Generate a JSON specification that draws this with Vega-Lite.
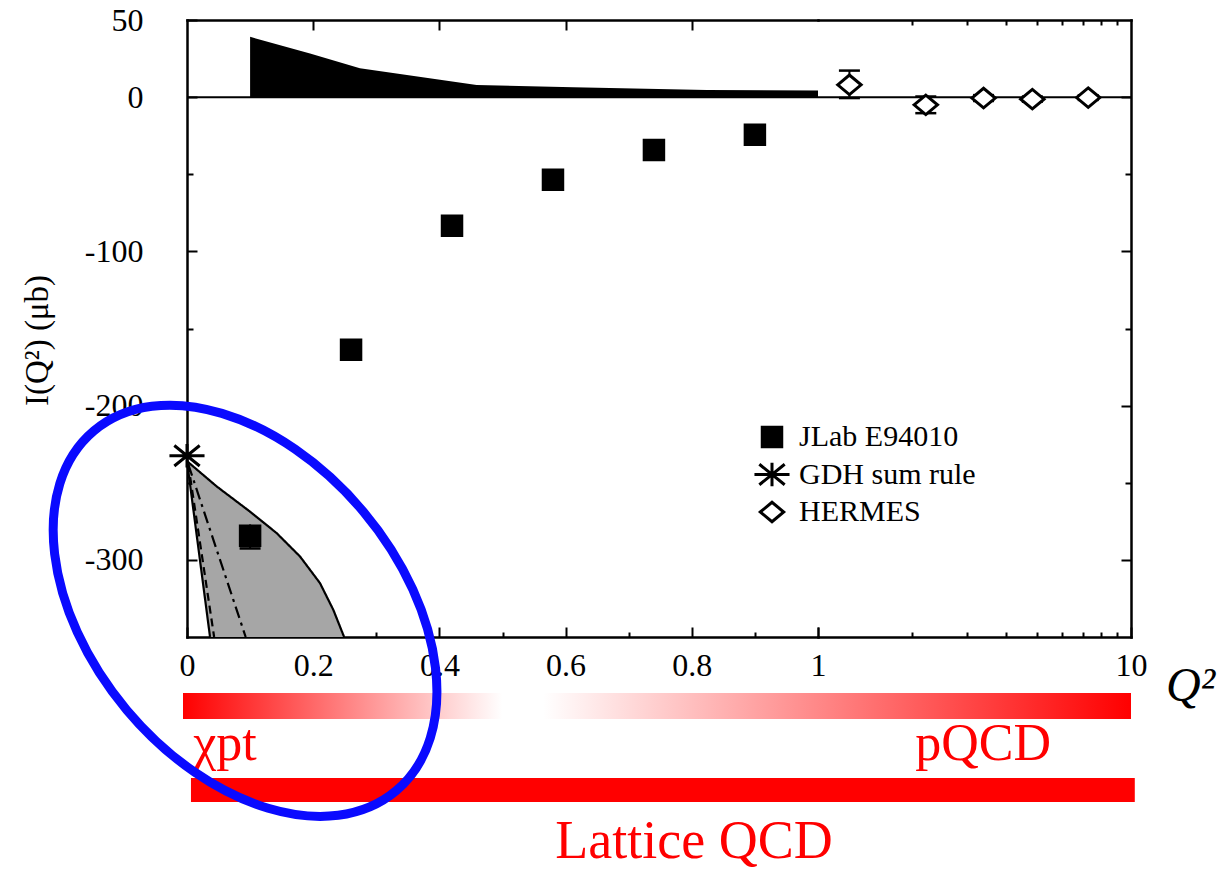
{
  "$schema": "https://vega.github.io/schema/vega-lite/v6.json",
  "width": 944,
  "height": 617,
  "autosize": {"type": "none"},
  "padding": {"left": 187, "top": 20, "right": 87, "bottom": 234},
  "background": "white",
  "config": {
    "view": {"stroke": null},
    "font": "Liberation Serif",
    "axis": {"grid": false, "domainColor": "black", "domainWidth": 2.5, "domainCap": "square", "tickColor": "black", "tickWidth": 2, "labelFont": "Liberation Serif", "labelFontSize": 32, "labelColor": "black", "labelFlush": false, "labelOverlap": false, "titleFont": "Liberation Serif", "titleColor": "black", "titleFontWeight": "normal"},
    "legend": {"labelFont": "Liberation Serif", "labelFontSize": 30, "labelColor": "black", "symbolSize": 380, "rowPadding": 3.5, "labelOffset": 12, "padding": 0, "symbolStrokeWidth": 3, "labelLimit": 400}
  },
  "datasets": {
    "blackArea": [
      {"q2": 0.1, "I": 39.1}, {"q2": 0.195, "I": 28.3}, {"q2": 0.274, "I": 18.7}, {"q2": 0.401, "I": 11.2},
      {"q2": 0.459, "I": 7.9}, {"q2": 0.612, "I": 6.4}, {"q2": 0.824, "I": 4.6}, {"q2": 1.0, "I": 4.3}
    ],
    "band": [
      {"I": -236, "xl": 0, "xr": 0}, {"I": -252.4, "xl": 0.0053, "xr": 0.0471}, {"I": -268.7, "xl": 0.0105, "xr": 0.0998},
      {"I": -282.7, "xl": 0.015, "xr": 0.1422}, {"I": -297.8, "xl": 0.0198, "xr": 0.1791}, {"I": -315.1, "xl": 0.0253, "xr": 0.2108},
      {"I": -332.4, "xl": 0.0309, "xr": 0.2319}, {"I": -350, "xl": 0.0365, "xr": 0.249}
    ],
    "curves": [
      {"line": "left", "q2": 0, "I": -236}, {"line": "left", "q2": 0.0365, "I": -350},
      {"line": "dash", "q2": 0.002, "I": -238}, {"line": "dash", "q2": 0.043, "I": -350},
      {"line": "dashdot", "q2": 0.002, "I": -238}, {"line": "dashdot", "q2": 0.093, "I": -350},
      {"line": "right", "q2": 0, "I": -236}, {"line": "right", "q2": 0.0471, "I": -252.4}, {"line": "right", "q2": 0.0998, "I": -268.7},
      {"line": "right", "q2": 0.1422, "I": -282.7}, {"line": "right", "q2": 0.1791, "I": -297.8}, {"line": "right", "q2": 0.2108, "I": -315.1},
      {"line": "right", "q2": 0.2319, "I": -332.4}, {"line": "right", "q2": 0.249, "I": -350}
    ],
    "jlab": [
      {"series": "JLab E94010", "q2": 0.1, "I": -284.4}, {"series": "JLab E94010", "q2": 0.26, "I": -163.8},
      {"series": "JLab E94010", "q2": 0.42, "I": -83.4}, {"series": "JLab E94010", "q2": 0.58, "I": -53.6},
      {"series": "JLab E94010", "q2": 0.74, "I": -34.2}, {"series": "JLab E94010", "q2": 0.9, "I": -24.4},
      {"series": "GDH sum rule", "q2": 0, "I": -232.5}
    ],
    "jlabErr": [
      {"q2": 0.1, "lo": -292.6, "hi": -277}, {"q2": 0.26, "lo": -168, "hi": -160}, {"q2": 0.42, "lo": -87, "hi": -80},
      {"q2": 0.58, "lo": -57, "hi": -50}, {"q2": 0.74, "lo": -37, "hi": -31}, {"q2": 0.9, "lo": -27, "hi": -22}
    ],
    "hermes": [
      {"series": "HERMES", "q2": 1.26, "I": 8.0}, {"series": "HERMES", "q2": 2.21, "I": -5.0}, {"series": "HERMES", "q2": 3.38, "I": -0.6},
      {"series": "HERMES", "q2": 4.84, "I": -1.3}, {"series": "HERMES", "q2": 7.3, "I": -0.3}
    ],
    "hermesErr": [
      {"q2": 1.26, "lo": -0.6, "hi": 17.2}, {"q2": 2.21, "lo": -10.4, "hi": 0.4}, {"q2": 3.38, "lo": -2.5, "hi": 1.3},
      {"q2": 4.84, "lo": -3.0, "hi": 0.4}, {"q2": 7.3, "lo": -1.8, "hi": 1.2}
    ],
    "ellipse": [{"q2": 0.092, "I": -333}]
  },
  "layer": [
    {
      "layer": [
        {
          "data": {"values": [{"from": 0, "to": 1, "top": 0.239, "bottom": 0.35}]},
          "mark": {"type": "rect", "fill": {"gradient": "linear", "stops": [{"offset": 0, "color": "#ff0000"}, {"offset": 0.337, "color": "#ffffff"}, {"offset": 0.38, "color": "#ffffff"}, {"offset": 1, "color": "#ff0000"}]}},
          "encoding": {
            "x": {"field": "from", "type": "quantitative", "scale": {"domain": [0, 1], "range": [-4, 944], "nice": false, "zero": false}, "axis": null},
            "x2": {"field": "to"},
            "y": {"field": "top", "type": "quantitative", "scale": {"domain": [0, 1], "range": [617, 851], "nice": false, "zero": false}, "axis": null},
            "y2": {"field": "bottom"}
          }
        },
        {
          "data": {"values": [{"from": 0.0084, "to": 1.004, "top": 0.603, "bottom": 0.705}]},
          "mark": {"type": "rect", "fill": "#ff0000"},
          "encoding": {
            "x": {"field": "from", "type": "quantitative", "scale": {"domain": [0, 1], "range": [-4, 944], "nice": false, "zero": false}, "axis": null},
            "x2": {"field": "to"},
            "y": {"field": "top", "type": "quantitative", "scale": {"domain": [0, 1], "range": [617, 851], "nice": false, "zero": false}, "axis": null},
            "y2": {"field": "bottom"}
          }
        },
        {
          "data": {"values": [{"label": "χpt", "x": 0.0443, "y": 0.526}, {"label": "pQCD", "x": 0.844, "y": 0.526}]},
          "mark": {"type": "text", "font": "Liberation Serif", "fontSize": 52, "fill": "#ff0000", "align": "center", "baseline": "alphabetic"},
          "encoding": {
            "x": {"field": "x", "type": "quantitative", "scale": {"domain": [0, 1], "range": [-4, 944], "nice": false, "zero": false}, "axis": null},
            "y": {"field": "y", "type": "quantitative", "scale": {"domain": [0, 1], "range": [617, 851], "nice": false, "zero": false}, "axis": null},
            "text": {"field": "label"}
          }
        },
        {
          "data": {"values": [{"label": "Lattice QCD", "x": 0.539, "y": 0.945}]},
          "mark": {"type": "text", "font": "Liberation Serif", "fontSize": 54, "fill": "#ff0000", "align": "center", "baseline": "alphabetic"},
          "encoding": {
            "x": {"field": "x", "type": "quantitative", "scale": {"domain": [0, 1], "range": [-4, 944], "nice": false, "zero": false}, "axis": null},
            "y": {"field": "y", "type": "quantitative", "scale": {"domain": [0, 1], "range": [617, 851], "nice": false, "zero": false}, "axis": null},
            "text": {"field": "label"}
          }
        }
      ]
    },
    {
      "layer": [
        {
          "data": {"name": "blackArea"},
          "mark": {"type": "area", "color": "black", "opacity": 1},
          "encoding": {
            "x": {"field": "q2", "type": "quantitative", "scale": {"domain": [0, 1], "range": [0, 631], "nice": false, "zero": false},
                  "axis": {"orient": "bottom", "values": [0, 0.2, 0.4, 0.6, 0.8, 1], "format": "~g", "tickSize": -10, "labelPadding": 23, "title": null}},
            "y": {"field": "I", "type": "quantitative", "scale": {"domain": [-350, 50], "nice": false, "zero": false},
                  "axis": {"orient": "left", "values": [-300, -200, -100, 0, 50], "labelExpr": "toString(datum.value)", "tickSize": -10, "labelPadding": 54, "title": "I(Q²) (μb)", "titleX": -150, "titleY": 320, "titleAngle": 270, "titleBaseline": "middle", "titleAlign": "center", "titleFontSize": 33}},
            "y2": {"datum": 0}
          }
        },
        {
          "data": {"values": [{"I": 0}]},
          "mark": {"type": "rule", "color": "black", "strokeWidth": 2},
          "encoding": {
            "y": {"field": "I", "type": "quantitative", "scale": {"domain": [-350, 50], "nice": false, "zero": false}, "axis": null}
          }
        },
        {
          "data": {"name": "band"},
          "mark": {"type": "area", "orient": "horizontal", "color": "#a6a6a6", "opacity": 1},
          "encoding": {
            "y": {"field": "I", "type": "quantitative", "scale": {"domain": [-350, 50], "nice": false, "zero": false},
                  "axis": {"orient": "left", "values": [-250, -150, -50], "tickSize": -6, "labels": false, "domain": false, "title": null}},
            "x": {"field": "xl", "type": "quantitative", "scale": {"domain": [0, 1], "range": [0, 631], "nice": false, "zero": false},
                  "axis": {"orient": "bottom", "values": [0.1, 0.3, 0.5, 0.7, 0.9], "tickSize": -5, "labels": false, "domain": false, "title": null}},
            "x2": {"field": "xr"}
          }
        },
        {
          "data": {"name": "curves"},
          "mark": {"type": "line", "color": "black", "strokeWidth": 2.2},
          "encoding": {
            "x": {"field": "q2", "type": "quantitative", "scale": {"domain": [0, 1], "range": [0, 631], "nice": false, "zero": false},
                  "axis": {"orient": "top", "values": [0.2, 0.4, 0.6, 0.8], "tickSize": -10, "labels": false, "title": null}},
            "y": {"field": "I", "type": "quantitative", "scale": {"domain": [-350, 50], "nice": false, "zero": false}, "axis": null},
            "strokeDash": {"field": "line", "type": "nominal", "scale": {"domain": ["left", "right", "dash", "dashdot"], "range": [[1, 0], [1, 0], [8, 5], [12, 5, 3, 5]]}, "legend": null}
          }
        },
        {
          "data": {"name": "jlabErr"},
          "mark": {"type": "rule", "color": "black", "strokeWidth": 2},
          "encoding": {
            "x": {"field": "q2", "type": "quantitative", "scale": {"domain": [0, 1], "range": [0, 631], "nice": false, "zero": false}, "axis": null},
            "y": {"field": "lo", "type": "quantitative", "scale": {"domain": [-350, 50], "nice": false, "zero": false}, "axis": null},
            "y2": {"field": "hi"}
          }
        },
        {
          "data": {"name": "jlabErr"},
          "mark": {"type": "tick", "orient": "horizontal", "color": "black", "size": 21, "thickness": 2.5, "opacity": 1},
          "encoding": {
            "x": {"field": "q2", "type": "quantitative", "scale": {"domain": [0, 1], "range": [0, 631], "nice": false, "zero": false}, "axis": null},
            "y": {"field": "lo", "type": "quantitative", "scale": {"domain": [-350, 50], "nice": false, "zero": false}, "axis": null}
          }
        },
        {
          "data": {"name": "jlab"},
          "mark": {"type": "point", "filled": true, "strokeWidth": 3, "size": 380, "opacity": 1},
          "encoding": {
            "x": {"field": "q2", "type": "quantitative", "scale": {"domain": [0, 1], "range": [0, 631], "nice": false, "zero": false}, "axis": null},
            "y": {"field": "I", "type": "quantitative", "scale": {"domain": [-350, 50], "nice": false, "zero": false}, "axis": null},
            "shape": {"field": "series", "type": "nominal", "scale": {"domain": ["JLab E94010", "GDH sum rule", "HERMES"], "range": ["square", "M -1.8 0 L 1.8 0 M 0 -1.2 L 0 1.2 M -1.3 -1.05 L 1.3 1.05 M -1.3 1.05 L 1.3 -1.05", "M -1.2 0 L 0 -1 L 1.2 0 L 0 1 Z"]},
                      "legend": {"title": null, "orient": "none", "legendX": 570, "legendY": 402}},
            "fill": {"field": "series", "type": "nominal", "scale": {"domain": ["JLab E94010", "GDH sum rule", "HERMES"], "range": ["black", "white", "white"]},
                     "legend": {"title": null, "orient": "none", "legendX": 570, "legendY": 402}},
            "stroke": {"field": "series", "type": "nominal", "scale": {"domain": ["JLab E94010", "GDH sum rule", "HERMES"], "range": ["black", "black", "black"]},
                       "legend": {"title": null, "orient": "none", "legendX": 570, "legendY": 402}}
          }
        },
        {
          "data": {"name": "ellipse"},
          "mark": {"type": "point", "shape": "M 1 0 C 1 0.363 0.552 0.657 0 0.657 C -0.552 0.657 -1 0.363 -1 0 C -1 -0.363 -0.552 -0.657 0 -0.657 C 0.552 -0.657 1 -0.363 1 0 Z", "size": 220900, "angle": 50, "filled": false, "stroke": "#0a0aff", "strokeWidth": 9, "opacity": 1},
          "encoding": {
            "x": {"field": "q2", "type": "quantitative", "scale": {"domain": [0, 1], "range": [0, 631], "nice": false, "zero": false}, "axis": null},
            "y": {"field": "I", "type": "quantitative", "scale": {"domain": [-350, 50], "nice": false, "zero": false}, "axis": null}
          }
        }
      ],
      "resolve": {"axis": {"x": "independent", "y": "independent"}}
    },
    {
      "layer": [
        {
          "data": {"name": "hermesErr"},
          "mark": {"type": "rule", "color": "black", "strokeWidth": 2},
          "encoding": {
            "x": {"field": "q2", "type": "quantitative", "scale": {"type": "log", "domain": [1, 10], "range": [631, 944], "nice": false},
                  "axis": {"orient": "bottom", "values": [2, 3, 4, 5, 6, 7, 8, 9], "tickSize": -5, "labels": false, "domain": false, "title": null}},
            "y": {"field": "lo", "type": "quantitative", "scale": {"domain": [-350, 50], "nice": false, "zero": false},
                  "axis": {"orient": "right", "values": [-250, -150, -50], "tickSize": -6, "labels": false, "domain": false, "title": null}},
            "y2": {"field": "hi"}
          }
        },
        {
          "data": {"name": "hermesErr"},
          "mark": {"type": "tick", "orient": "horizontal", "color": "black", "size": 21, "thickness": 2.5, "opacity": 1},
          "encoding": {
            "x": {"field": "q2", "type": "quantitative", "scale": {"type": "log", "domain": [1, 10], "range": [631, 944], "nice": false},
                  "axis": {"orient": "top", "values": [2, 3, 4, 5, 6, 7, 8, 9], "tickSize": -5, "labels": false, "title": null}},
            "y": {"field": "lo", "type": "quantitative", "scale": {"domain": [-350, 50], "nice": false, "zero": false}, "axis": null}
          }
        },
        {
          "data": {"name": "hermesErr"},
          "mark": {"type": "tick", "orient": "horizontal", "color": "black", "size": 21, "thickness": 2.5, "opacity": 1},
          "encoding": {
            "x": {"field": "q2", "type": "quantitative", "scale": {"type": "log", "domain": [1, 10], "range": [631, 944], "nice": false}, "axis": null},
            "y": {"field": "hi", "type": "quantitative", "scale": {"domain": [-350, 50], "nice": false, "zero": false}, "axis": null}
          }
        },
        {
          "data": {"name": "hermes"},
          "mark": {"type": "point", "filled": true, "strokeWidth": 3, "size": 380, "opacity": 1},
          "encoding": {
            "x": {"field": "q2", "type": "quantitative", "scale": {"type": "log", "domain": [1, 10], "range": [631, 944], "nice": false},
                  "axis": {"orient": "bottom", "values": [1, 10], "labelExpr": "datum.value == 10 ? '10' : ''", "tickSize": -10, "labelPadding": 23, "title": "Q²", "titleX": 1003, "titleY": 63, "titleFontSize": 48, "titleFontStyle": "italic", "titleBaseline": "alphabetic", "titleAlign": "center"}},
            "y": {"field": "I", "type": "quantitative", "scale": {"domain": [-350, 50], "nice": false, "zero": false},
                  "axis": {"orient": "right", "values": [-300, -200, -100, 0], "tickSize": -10, "labels": false, "title": null}},
            "shape": {"field": "series", "type": "nominal", "scale": {"domain": ["JLab E94010", "GDH sum rule", "HERMES"], "range": ["square", "M -1.8 0 L 1.8 0 M 0 -1.2 L 0 1.2 M -1.3 -1.05 L 1.3 1.05 M -1.3 1.05 L 1.3 -1.05", "M -1.2 0 L 0 -1 L 1.2 0 L 0 1 Z"]},
                      "legend": {"title": null, "orient": "none", "legendX": 570, "legendY": 402}},
            "fill": {"field": "series", "type": "nominal", "scale": {"domain": ["JLab E94010", "GDH sum rule", "HERMES"], "range": ["black", "white", "white"]},
                     "legend": {"title": null, "orient": "none", "legendX": 570, "legendY": 402}},
            "stroke": {"field": "series", "type": "nominal", "scale": {"domain": ["JLab E94010", "GDH sum rule", "HERMES"], "range": ["black", "black", "black"]},
                       "legend": {"title": null, "orient": "none", "legendX": 570, "legendY": 402}}
          }
        }
      ],
      "resolve": {"axis": {"x": "independent", "y": "independent"}}
    }
  ],
  "resolve": {"scale": {"x": "independent", "y": "independent"}, "axis": {"x": "independent", "y": "independent"}}
}
